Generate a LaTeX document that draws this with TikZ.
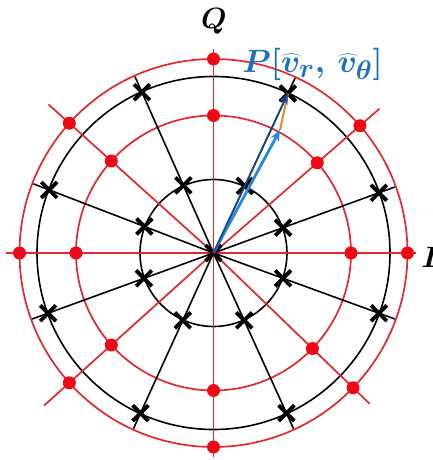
\documentclass[tikz,border=0pt]{standalone}
\usetikzlibrary{shapes.misc,arrows.meta}
\DeclareMathSizes{24.88}{24.88}{20.74}{17.28}
\definecolor{redl}{RGB}{226,40,48}
\definecolor{redd}{RGB}{240,8,20}
\definecolor{pblue}{RGB}{30,112,190}
\definecolor{dblue}{RGB}{22,72,150}
\definecolor{lblue}{RGB}{40,135,215}
\definecolor{orng}{RGB}{232,140,40}
\tikzset{
  redln/.style={draw=redl,line width=1.7},
  blkln/.style={draw=black,line width=1.6},
  rdot/.style={circle,fill=redd,inner sep=0pt,minimum size=13},
  xmk/.style={cross out,draw=black,line width=3.8,inner sep=0pt,minimum size=12},
  lbl/.style={inner sep=0pt,font=\Huge\boldmath,scale=1.18}
}
\begin{document}
\begin{tikzpicture}[x=1pt,y=1pt]
\useasboundingbox (-213.5,-207) rectangle (219.5,253);
\coordinate (O) at (0,0);
% circles
\draw[blkln] (O) circle (73.5);
\draw[blkln] (O) circle (176.5);
\draw[redln] (O) circle (137.5);
\draw[redln] (O) circle (194);
% red rays and dots
\foreach \a/\r [count=\i] in {0/202,41/220,90/204,138/222,180/207,222/228,270/204,316/217}{
  \coordinate (re\i) at (\a:\r);
  \draw[redln] (O) -- (re\i);
}
\foreach \a [count=\i] in {0,41,90,138,180,222,270,316}{
  \node[rdot] (ri\i) at (\a:137.5) {};
  \node[rdot] (ro\i) at (\a:194) {};
}
% black rays and crosses
\foreach \a [count=\i] in {20,65,114,159,200,245.5,294.5,340}{
  \coordinate (be\i) at (\a:193);
  \draw[blkln] (O) -- (be\i);
  \node[xmk] (xi\i) at (\a:74) {};
  \node[xmk] (xo\i) at (\a:176) {};
}
\node[xmk] (xc) at (O) {};
% vectors
\coordinate (est) at (66.5,123);
\draw[orng,line width=2] (est) -- (xo2.center);
\draw[lblue,line width=2.8,-{Stealth[length=11,width=9]}] (O) -- (est);
\draw[dblue,line width=1.6,-{Stealth[length=11,width=9]}] (O) -- (xo2.center);
% labels
\node[lbl] (q) at (0.5,232) {$Q$};
\node[lbl,anchor=west] (i) at (208,-4) {$I$};
\node[lbl,anchor=west,text=pblue,scale=1.1] (p) at (28.5,188.5) {$P[\widehat{v}_r,\,\widehat{v}_\theta]$};
\end{tikzpicture}
\end{document}
